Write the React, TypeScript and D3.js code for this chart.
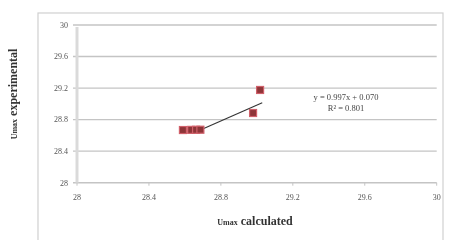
import React from 'react';
import * as d3 from 'd3';

const calcValues = [28.589, 28.635, 28.662, 28.686, 28.979, 29.018];
const expValues = [28.668, 28.67, 28.671, 28.672, 28.884, 29.176];
const xTicks = [28, 28.4, 28.8, 29.2, 29.6, 30];
const yTicks = [28, 28.4, 28.8, 29.2, 29.6, 30];
const trendRange = [28.67, 29.03];
const slope = 0.997;
const intercept = 0.07;
const eqLabel = 'y = 0.997x + 0.070';
const r2Label = 'R² = 0.801';

const width = 452,
  height = 240;

export default function App() {
  const x = d3.scaleLinear().domain([28, 30]).range([77, 436.7]);
  const y = d3.scaleLinear().domain([28, 30]).range([182.7, 25]);

  const trend = d3
    .line<number>()
    .x(d => x(d))
    .y(d => y(slope * d + intercept))(trendRange);

  const fmt = (v: number) => (Number.isInteger(v) ? String(v) : v.toFixed(1));

  return (
    <svg
      width={width}
      height={height}
      style={{ position: 'absolute', left: 0, top: 0, background: '#fff' }}
      fontFamily="'Liberation Serif', serif"
    >
      <defs>
        <filter id="soft">
          <feGaussianBlur stdDeviation="0.55" />
        </filter>
      </defs>
      <g filter="url(#soft)">
        <rect x={38} y={13} width={405} height={240} fill="#fff" stroke="#d0d0d0" strokeWidth={1.2} />

        {/* grid */}
        {yTicks.map(t => (
          <line key={'g' + t} x1={x(28) - 4} x2={x(30)} y1={y(t)} y2={y(t)} stroke="#c4c4c4" strokeWidth={1.4} />
        ))}
        {/* left axis */}
        <line x1={x(28)} x2={x(28)} y1={y(30) + 2} y2={y(28)} stroke="#dadada" strokeWidth={3} />
        {xTicks.map(t => (
          <line key={'xt' + t} x1={x(t)} x2={x(t)} y1={y(28)} y2={y(28) + 3} stroke="#c4c4c4" strokeWidth={1} />
        ))}

        {/* tick labels */}
        {yTicks.map(t => (
          <text key={'yl' + t} x={68} y={y(t) + 2.8} fontSize={8} textAnchor="end" fill="#555">
            {fmt(t)}
          </text>
        ))}
        {xTicks.map(t => (
          <text key={'xl' + t} x={x(t)} y={200} fontSize={8} textAnchor="middle" fill="#555">
            {fmt(t)}
          </text>
        ))}

        {/* trend line */}
        <path d={trend || ''} fill="none" stroke="#333" strokeWidth={1.1} />

        {/* points */}
        {calcValues.map((c, i) => (
          <rect
            key={'p' + i}
            x={x(c) - 3.5}
            y={y(expValues[i]) - 3.5}
            width={7}
            height={7}
            fill="#8e3438"
            stroke="#d0606a"
            strokeWidth={1.2}
          />
        ))}

        {/* equation */}
        <text x={346} y={100} fontSize={8.5} textAnchor="middle" fill="#444">
          {eqLabel}
        </text>
        <text x={346} y={110.5} fontSize={8.5} textAnchor="middle" fill="#444">
          {r2Label}
        </text>

        {/* axis titles */}
        <text x={255} y={225} fontSize={12} fontWeight="bold" textAnchor="middle" fill="#333">
          <tspan fontSize={8}>Umax</tspan> calculated
        </text>
        <text
          transform="translate(17,94) rotate(-90)"
          fontSize={12}
          fontWeight="bold"
          textAnchor="middle"
          fill="#333"
        >
          <tspan fontSize={8}>Umax</tspan> experimental
        </text>
      </g>
    </svg>
  );
}
